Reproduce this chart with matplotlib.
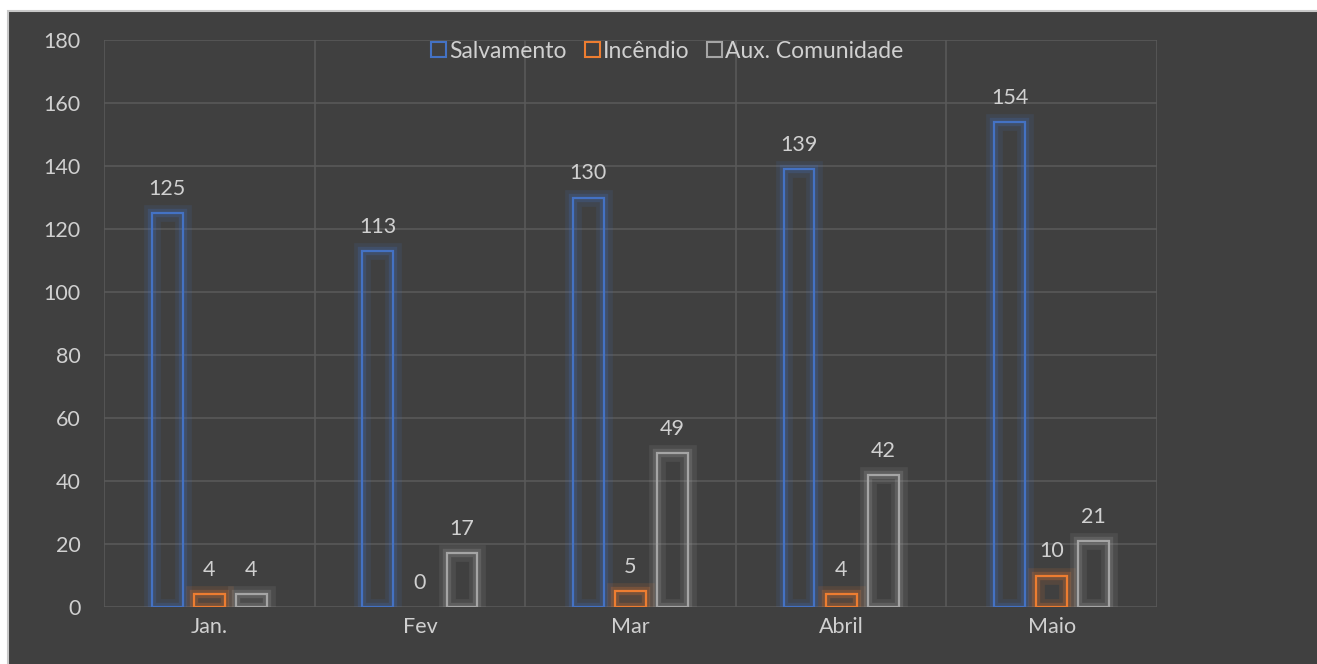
import numpy as np
import matplotlib.pyplot as plt
import matplotlib.patheffects as pe
from matplotlib.patches import Patch, Rectangle

months = ["Jan.", "Fev", "Mar", "Abril", "Maio"]
series_names = ["Salvamento", "Incêndio", "Aux. Comunidade"]
salvamento = [125, 113, 130, 139, 154]
incendio = [4, 0, 5, 4, 10]
aux_comunidade = [4, 17, 49, 42, 21]
y_ticks = [0, 20, 40, 60, 80, 100, 120, 140, 160, 180]

colors = ["#4472c4", "#ed7d31", "#a5a5a5"]
bg = "#404040"
text_col = "#d0d0d0"
grid_col = "#595959"
fsize = 15.5

plt.rcParams["font.family"] = ["Lato", "DejaVu Sans"]

fig = plt.figure(figsize=(13.17, 6.64), dpi=100, facecolor="white")
# dark chart area with thin light border (top and left only visible)
fig.patches.append(Rectangle((8 / 1317, -0.1), 1.2, 1.1 - 11 / 664, transform=fig.transFigure,
                             facecolor=bg, edgecolor="#c8c8c8", linewidth=1.5, zorder=-10))

ax = fig.add_axes([104 / 1317, 1 - 607 / 664, (1157 - 104) / 1317, (607 - 40) / 664])
ax.patch.set_alpha(0)

x = np.arange(len(months))
width = 0.147
step = 0.2
data = [salvamento, incendio, aux_comunidade]

for i, (vals, col, name) in enumerate(zip(data, colors, series_names)):
    bars = ax.bar(x + (i - 1) * step, vals, width, facecolor="none", edgecolor=col,
                  linewidth=1.6, label=name, zorder=3)
    for b, v in zip(bars, vals):
        if v == 0:
            b.set_visible(False)
        b.set_path_effects([
            pe.Stroke(linewidth=12, foreground=col, alpha=0.12),
            pe.Stroke(linewidth=6, foreground=col, alpha=0.22),
            pe.Normal(),
        ])
    for xi, v in zip(x + (i - 1) * step, vals):
        ax.annotate(str(v), (xi, v), xytext=(0, 13), textcoords="offset points",
                    ha="center", va="baseline", color=text_col, fontsize=fsize)

ax.set_xlim(-0.5, len(months) - 0.5)
ax.set_ylim(0, 180)
ax.set_yticks(y_ticks)
ax.set_xticks(x)
ax.set_xticklabels(months)

# gridlines: horizontal at ticks, vertical at category boundaries
for yv in y_ticks:
    ax.axhline(yv, color=grid_col, linewidth=1.2, zorder=1)
for xv in np.arange(len(months) + 1) - 0.5:
    ax.axvline(xv, color=grid_col, linewidth=1.2, zorder=1)

for s in ax.spines.values():
    s.set_visible(False)
ax.tick_params(axis="both", length=0, colors=text_col, labelsize=fsize)
ax.tick_params(axis="y", pad=17)
ax.tick_params(axis="x", pad=7)

handles = [Patch(facecolor="none", edgecolor=c, linewidth=1.5, label=n)
           for c, n in zip(colors, series_names)]
ax.legend(handles=handles, loc="upper center", bbox_to_anchor=(0.535, 1.035), ncol=3,
          frameon=False, fontsize=16.5, labelcolor=text_col, handlelength=0.65,
          handleheight=0.65, handletextpad=0.12, columnspacing=0.8)

fig.savefig("out.png", dpi=100, facecolor="white")
